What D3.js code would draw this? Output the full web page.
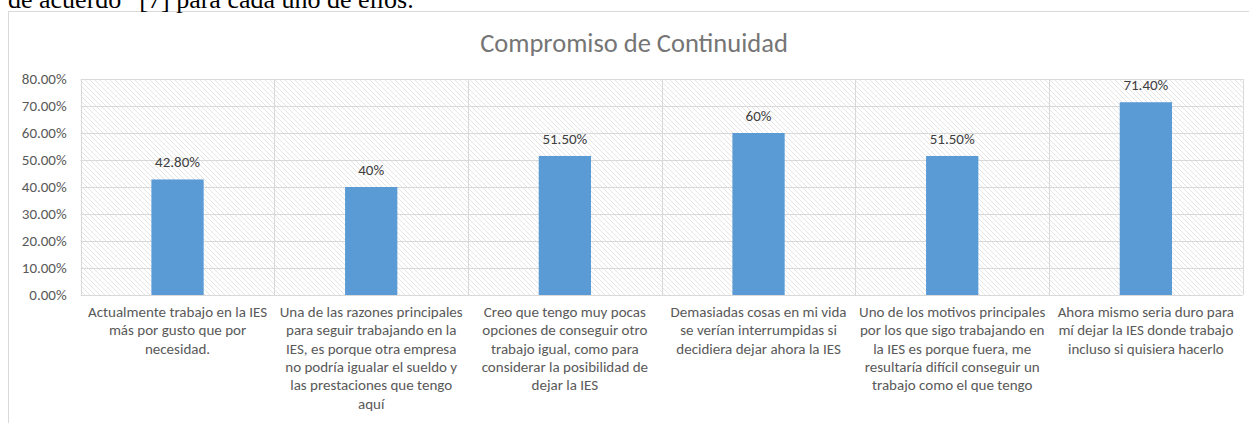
<!DOCTYPE html>
<html>
<head>
<meta charset="utf-8">
<script src="https://cdn.jsdelivr.net/npm/d3@7"></script>
<style>
  html, body { margin: 0; padding: 0; background: #fff; }
  svg { display: block; }
</style>
</head>
<body>
<svg id="chart" width="1249" height="423"></svg>
<script>
// Survey items (each label split into its display lines)
const categories = [
  ["Actualmente trabajo en la IES", "más por gusto que por", "necesidad."],
  ["Una de las razones principales", "para seguir trabajando en la", "IES, es porque otra empresa", "no podría igualar el sueldo y", "las prestaciones que tengo", "aquí"],
  ["Creo que tengo muy pocas", "opciones de conseguir otro", "trabajo igual, como para", "considerar la posibilidad de", "dejar la IES"],
  ["Demasiadas cosas en mi vida", "se verían interrumpidas si", "decidiera dejar ahora la IES"],
  ["Uno de los motivos principales", "por los que sigo trabajando en", "la IES es porque fuera, me", "resultaría difícil conseguir un", "trabajo como el que tengo"],
  ["Ahora mismo seria duro para", "mí dejar la IES donde trabajo", "incluso si quisiera hacerlo"]
];
const values = [42.8, 40, 51.5, 60, 51.5, 71.4];
const valueLabels = ["42.80%", "40%", "51.50%", "60%", "51.50%", "71.40%"];
const yTicks = [0, 10, 20, 30, 40, 50, 60, 70, 80];
const chartTitle = "Compromiso de Continuidad";
const leadText = "de acuerdo\u201d [7] para cada uno de ellos.";

const svg = d3.select("#chart");
const font = "Calibri, Carlito, 'Open Sans', sans-serif";
const fs = 15;

// Chart frame
svg.append("rect")
  .attr("x", 8.5).attr("y", 11.5)
  .attr("width", 1400).attr("height", 600)
  .attr("fill", "#fff")
  .attr("stroke", "#d9d9d9");

// Paragraph text running above the chart
svg.append("text")
  .attr("x", 8).attr("y", 8)
  .attr("font-family", "'Liberation Serif', 'Times New Roman', serif")
  .attr("font-size", 26)
  .attr("fill", "#000")
  .text(leadText);

// Title
svg.append("text")
  .attr("x", 634).attr("y", 52)
  .attr("text-anchor", "middle")
  .attr("font-family", font)
  .attr("font-size", 26.5)
  .attr("fill", "#757575")
  .text(chartTitle);

const plot = { left: 80.7, right: 1242.7, top: 79, bottom: 295 };

const x = d3.scaleBand()
  .domain(d3.range(categories.length))
  .range([plot.left, plot.right])
  .paddingInner(0.73).paddingOuter(0.365);
const xBounds = d3.scaleBand()
  .domain(d3.range(categories.length))
  .range([plot.left, plot.right]);
const y = d3.scaleLinear().domain([0, 80]).range([plot.bottom, plot.top]);

// Diagonal hatch fill for the plot area
const defs = svg.append("defs");
const pat = defs.append("pattern")
  .attr("id", "hatch")
  .attr("patternUnits", "userSpaceOnUse")
  .attr("width", 5).attr("height", 5);
pat.append("rect").attr("width", 5).attr("height", 5).attr("fill", "#fff");
pat.append("path")
  .attr("d", "M0,0L5,5M-1,4L1,6M4,-1L6,1")
  .attr("stroke", "#e0e0e0")
  .attr("stroke-width", 0.85);

svg.append("rect")
  .attr("x", plot.left).attr("y", plot.top)
  .attr("width", plot.right - plot.left)
  .attr("height", plot.bottom - plot.top)
  .attr("fill", "url(#hatch)");

// Horizontal gridlines
svg.append("g")
  .selectAll("line")
  .data(yTicks)
  .join("line")
  .attr("x1", plot.left).attr("x2", plot.right)
  .attr("y1", d => Math.round(y(d)) + 0.5)
  .attr("y2", d => Math.round(y(d)) + 0.5)
  .attr("stroke", "#d9d9d9");

// Vertical category dividers
const dividers = xBounds.domain().map(i => xBounds(i)).concat([plot.right]);
svg.append("g")
  .selectAll("line")
  .data(dividers)
  .join("line")
  .attr("x1", d => Math.round(d) + 0.5).attr("x2", d => Math.round(d) + 0.5)
  .attr("y1", plot.top).attr("y2", plot.bottom)
  .attr("stroke", "#d9d9d9");

// Y axis labels
const yAxis = d3.axisLeft(y)
  .tickValues(yTicks)
  .tickFormat(d => d3.format(".2%")(d / 100))
  .tickSize(0).tickPadding(14);
const yg = svg.append("g")
  .attr("transform", `translate(${plot.left},0)`)
  .call(yAxis);
yg.select(".domain").remove();
yg.selectAll("text")
  .attr("font-family", font)
  .attr("font-size", fs)
  .attr("fill", "#595959");

// Bars
svg.append("g")
  .selectAll("rect")
  .data(values)
  .join("rect")
  .attr("x", (d, i) => x(i))
  .attr("width", x.bandwidth())
  .attr("y", d => y(d))
  .attr("height", d => y(0) - y(d))
  .attr("fill", "#5b9bd5");

// Value labels
svg.append("g")
  .selectAll("text")
  .data(values)
  .join("text")
  .attr("x", (d, i) => x(i) + x.bandwidth() / 2)
  .attr("y", d => y(d) - 12)
  .attr("text-anchor", "middle")
  .attr("font-family", font)
  .attr("font-size", fs)
  .attr("fill", "#404040")
  .text((d, i) => valueLabels[i]);

// Category labels
const catG = svg.append("g")
  .selectAll("text")
  .data(categories)
  .join("text")
  .attr("x", (d, i) => xBounds(i) + xBounds.bandwidth() / 2)
  .attr("y", 317)
  .attr("text-anchor", "middle")
  .attr("font-family", font)
  .attr("font-size", fs)
  .attr("fill", "#595959");
catG.selectAll("tspan")
  .data(d => d)
  .join("tspan")
  .attr("x", function () { return d3.select(this.parentNode).attr("x"); })
  .attr("dy", (d, j) => j === 0 ? 0 : 18.3)
  .text(d => d);
</script>
</body>
</html>
